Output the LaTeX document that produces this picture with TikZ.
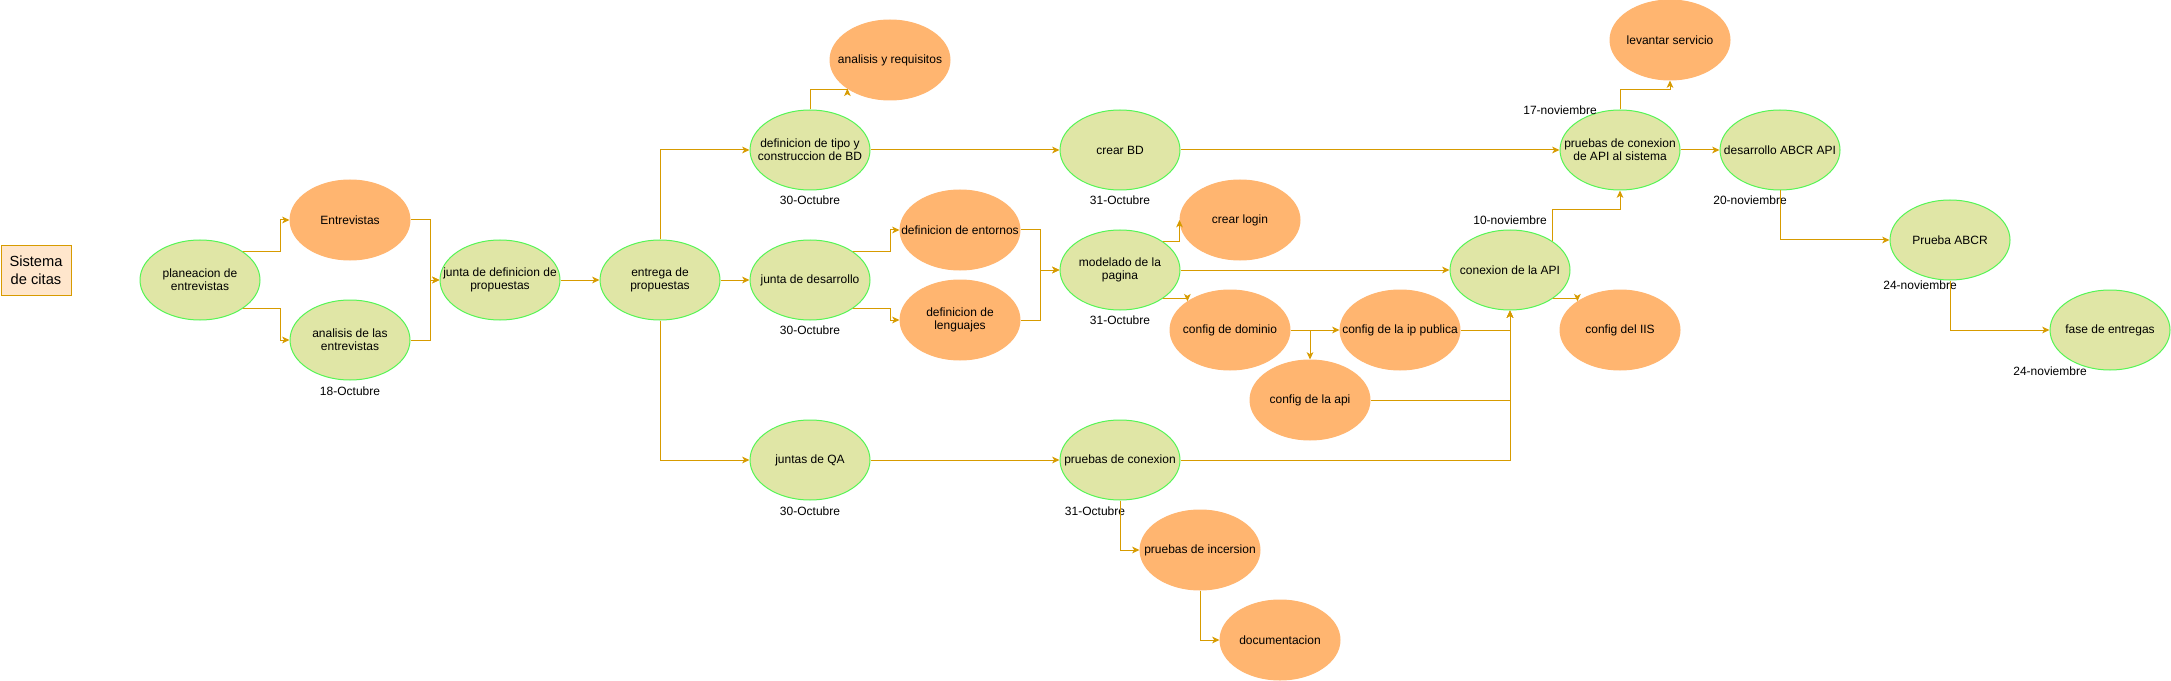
\documentclass[tikz,border=0pt]{standalone}
\usepackage{fontspec}
\setmainfont{Liberation Sans}
\usetikzlibrary{arrows.meta,shapes.geometric}

\definecolor{verdeFill}{HTML}{E0E6A6}
\definecolor{verdeLinea}{HTML}{55F555}
\definecolor{naranja}{HTML}{FFB570}
\definecolor{flecha}{HTML}{D79B00}
\definecolor{cajaFill}{HTML}{FFE6CC}

\tikzset{every picture/.style={line width=0.75pt}}
\tikzset{
	tarea/.style={ellipse, draw=verdeLinea, fill=verdeFill, minimum width=90pt, minimum height=60pt, inner sep=-30pt, align=center, font=\fontsize{9}{10}\selectfont},
	subtarea/.style={tarea, draw=naranja, fill=naranja},
	fecha/.style={inner sep=0pt, font=\fontsize{9}{10}\selectfont},
	flujo/.style={draw=flecha, -{Stealth[length=5.5pt,width=5pt,inset=1.5pt]}},
	caja/.style={draw=flecha, fill=cajaFill, minimum width=52.5pt, minimum height=38pt, inner sep=0pt, align=center, font=\fontsize{11}{13.5}\selectfont}
}

\begin{document}
\begin{tikzpicture}[x=0.75pt,y=0.75pt,yscale=-1,xscale=1]
	\useasboundingbox (0,0) rectangle (2171,681);
	
	%Shape: Rectangle
	\node[caja] (sistema) at (36,270.5) {Sistema\\de citas};
	
	%Shape: Ellipse (tareas)
	\node[tarea] (planeacion) at (200,280) {planeacion de\\entrevistas};
	\node[subtarea] (entrevistas) at (350,220) {Entrevistas};
	\node[tarea] (analisis) at (350,340) {analisis de las\\entrevistas};
	\node[tarea] (juntadef) at (500,280) {junta de definicion de\\propuestas};
	\node[tarea] (entrega) at (660,280) {entrega de\\propuestas};
	\node[tarea] (tipobd) at (810,150) {definicion de tipo y\\construccion de BD};
	\node[subtarea] (requisitos) at (890,60) {analisis y requisitos};
	\node[tarea] (crearbd) at (1120,150) {crear BD};
	\node[tarea] (desarrollo) at (810,280) {junta de desarrollo};
	\node[subtarea] (entornos) at (960,230) {definicion de entornos};
	\node[subtarea] (lenguajes) at (960,320) {definicion de\\lenguajes};
	\node[tarea] (modelado) at (1120,270) {modelado de la\\pagina};
	\node[subtarea] (login) at (1240,220) {crear login};
	\node[subtarea] (dominio) at (1230,330) {config de dominio};
	\node[subtarea] (ippub) at (1400,330) {config de la ip publica};
	\node[subtarea] (configapi) at (1310,400) {config de la api};
	\node[tarea] (conexion) at (1510,270) {conexion de la API};
	\node[subtarea] (iis) at (1620,330) {config del IIS};
	\node[tarea] (pruebasapi) at (1620,150) {pruebas de conexion\\de API al sistema};
	\node[subtarea] (levantar) at (1670,40) {levantar servicio};
	\node[tarea] (abcrapi) at (1780,150) {desarrollo ABCR API};
	\node[tarea] (prueba) at (1950,240) {Prueba ABCR};
	\node[tarea] (entregas) at (2110,330) {fase de entregas};
	\node[tarea] (qa) at (810,460) {juntas de QA};
	\node[tarea] (pconexion) at (1120,460) {pruebas de conexion};
	\node[subtarea] (incersion) at (1200,550) {pruebas de incersion};
	\node[subtarea] (docu) at (1280,640) {documentacion};
	
	% Text Node
	\node[fecha] (f18oct) at (350,391) {18-Octubre};
	\node[fecha] (f30oct) at (810,200) {30-Octubre};
	\node[fecha] (f31oct) at (1120,200) {31-Octubre};
	\node[fecha] (f30octb) at (810,330) {30-Octubre};
	\node[fecha] (f31octb) at (1120,320) {31-Octubre};
	\node[fecha] (f30octc) at (810,511) {30-Octubre};
	\node[fecha] (f31octc) at (1095,511) {31-Octubre};
	\node[fecha] (f10nov) at (1510,220) {10-noviembre};
	\node[fecha] (f17nov) at (1560,110) {17-noviembre};
	\node[fecha] (f20nov) at (1750,200) {20-noviembre};
	\node[fecha] (f24nov) at (1920,285) {24-noviembre};
	\node[fecha] (f24novb) at (2050,371) {24-noviembre};
	
	%Connectors
	\draw[flujo] (planeacion.34) -- ++(37.6,0) |- (entrevistas.west);
	\draw[flujo] (planeacion.-34) -- ++(37.6,0) |- (analisis.west);
	\draw[flujo] (entrevistas.east) -- ++(20,0) |- (juntadef.west);
	\draw[flujo] (analisis.east) -- ++(20,0) |- (juntadef.west);
	\draw[flujo] (juntadef.east) -- (entrega.west);
	\draw[flujo] (entrega.north) |- (tipobd.west);
	\draw[flujo] (entrega.east) -- (desarrollo.west);
	\draw[flujo] (entrega.south) |- (qa.west);
	\draw[flujo] (tipobd.north) -- ++(0,-20) -| (requisitos.214);
	\draw[flujo] (tipobd.east) -- (crearbd.west);
	\draw[flujo] (desarrollo.34) -- ++(37.6,0) |- (entornos.west);
	\draw[flujo] (desarrollo.-34) -- ++(37.6,0) |- (lenguajes.west);
	\draw[flujo] (entornos.east) -- ++(20,0) |- (modelado.west);
	\draw[flujo] (lenguajes.east) -- ++(20,0) |- (modelado.west);
	\draw[flujo] (crearbd.east) -- (pruebasapi.west);
	\draw[flujo] (modelado.34) -| (login.west);
	\draw[flujo] (modelado.east) -- (conexion.west);
	\draw[flujo] (modelado.-34) -| (dominio.146);
	\draw[flujo] (dominio.east) -- (ippub.west);
	\draw[flujo] (dominio.east) -| (configapi.north);
	\draw[flujo] (ippub.east) -| (conexion.south);
	\draw[flujo] (configapi.east) -| (conexion.south);
	\draw[flujo] (pconexion.east) -| (conexion.south);
	\draw[flujo] (conexion.34) -- ++(0,-32) -| (pruebasapi.south);
	\draw[flujo] (conexion.-34) -| (iis.146);
	\draw[flujo] (pruebasapi.north) -- ++(0,-20) -| (levantar.south);
	\draw[flujo] (pruebasapi.east) -- (abcrapi.west);
	\draw[flujo] (abcrapi.south) |- (prueba.west);
	\draw[flujo] (prueba.south) |- (entregas.west);
	\draw[flujo] (qa.east) -- (pconexion.west);
	\draw[flujo] (pconexion.south) |- (incersion.west);
	\draw[flujo] (incersion.south) |- (docu.west);
	
\end{tikzpicture}
\end{document}
